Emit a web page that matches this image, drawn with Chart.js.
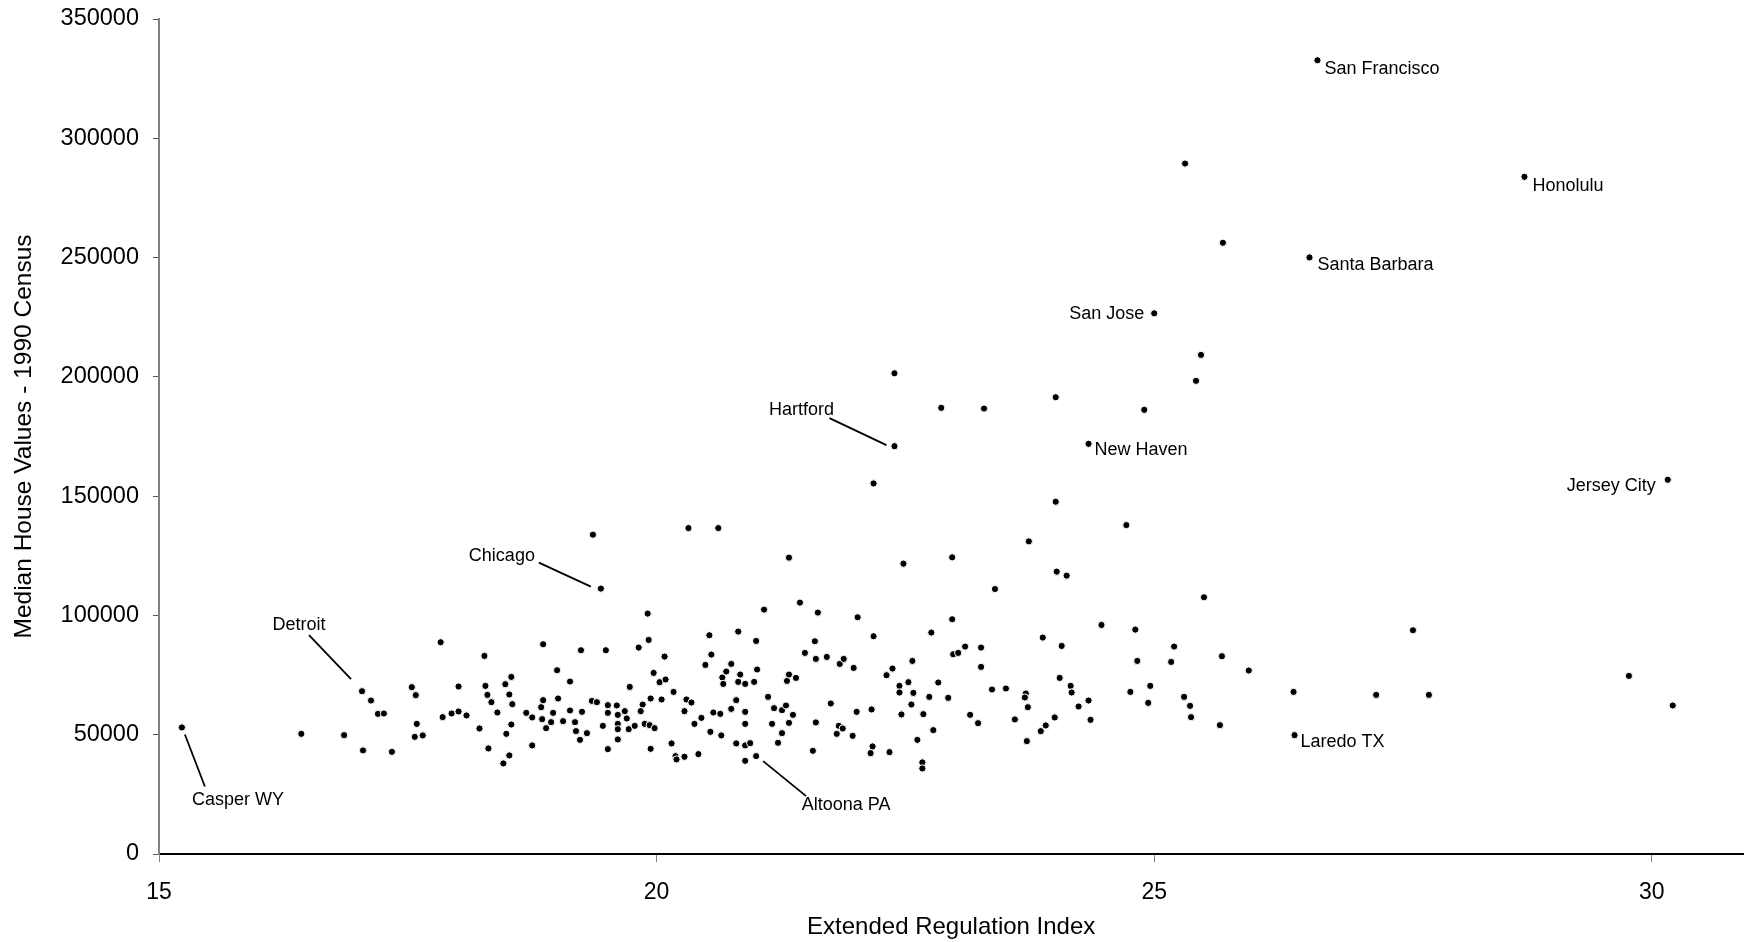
<!DOCTYPE html>
<html>
<head>
<meta charset="utf-8">
<script src="https://cdn.jsdelivr.net/npm/chart.js@4.4.1/dist/chart.umd.min.js"></script>
<style>
  html, body { margin: 0; padding: 0; background: #fff; }
  #wrap { width: 1748px; height: 942px; }
</style>
</head>
<body>
<div id="wrap"><canvas id="grafico" width="1748" height="942"></canvas></div>
<script>
// regulation index (x) and 1990 median house value (y), one entry per metro area
const regIndex = [
  15.23, 16.43, 16.86, 17.04, 17.13, 17.20, 17.26, 17.05, 17.34, 17.83,
  17.54, 17.58, 17.59, 17.57, 17.65, 17.85, 17.94, 18.01, 18.01, 18.09,
  18.27, 18.22, 18.28, 18.30, 18.34, 18.40, 18.31, 18.46, 18.52, 18.49,
  18.54, 18.48, 18.54, 18.52, 18.55, 18.69, 18.75, 18.75, 18.84, 18.86,
  18.85, 18.89, 18.94, 18.96, 18.86, 19.00, 19.01, 19.44, 19.91, 19.92,
  19.82, 19.24, 19.49, 20.08, 19.13, 19.06, 19.13, 19.25, 19.19, 19.18,
  19.23, 19.30, 19.35, 19.40, 19.51, 19.60, 19.51, 19.61, 19.68, 19.70,
  19.46, 19.61, 19.61, 19.72, 19.78, 19.61, 19.51, 19.73, 19.97, 20.03,
  20.09, 19.94, 19.86, 19.84, 19.88, 19.93, 19.98, 20.05, 19.94, 20.17,
  20.15, 20.19, 20.28, 20.42, 20.30, 20.35, 20.28, 20.38, 20.45, 20.53,
  20.55, 20.49, 20.82, 21.00, 21.08, 20.75, 20.70, 20.66, 20.67, 20.84,
  20.82, 20.89, 20.98, 21.01, 20.80, 20.75, 20.57, 20.64, 20.89, 20.54,
  20.65, 20.89, 20.80, 20.89, 20.94, 20.89, 21.00, 21.12, 21.18, 21.26,
  21.30, 21.37, 21.16, 21.33, 21.26, 21.22, 21.31, 21.33, 21.40, 21.44,
  21.62, 21.49, 21.59, 21.60, 21.71, 21.84, 21.88, 21.98, 22.02, 22.18,
  21.75, 21.60, 21.57, 21.83, 21.87, 21.81, 21.97, 22.01, 22.16, 22.17,
  22.15, 22.34, 22.31, 22.37, 22.44, 22.44, 22.53, 22.57, 22.48, 22.97,
  22.76, 22.83, 22.58, 22.56, 22.46, 22.68, 22.74, 22.93, 22.78, 22.62,
  22.67, 22.67, 22.98, 23.03, 23.10, 23.26, 23.26, 23.40, 23.15, 23.23,
  23.37, 23.51, 23.60, 23.71, 23.70, 23.73, 23.72, 23.86, 23.91, 24.00,
  23.88, 24.02, 24.12, 24.07, 24.05, 24.16, 24.17, 24.24, 24.34, 24.36,
  24.47, 24.76, 24.81, 24.83, 24.96, 24.94, 25.20, 25.17, 25.30, 25.36,
  25.37, 25.50, 25.68, 25.66, 25.95, 26.40, 26.41, 27.23, 27.60, 27.76,
  29.77, 30.21, 22.39, 22.39, 22.18, 19.36, 20.32, 20.62, 21.33, 25.47,
  25.42, 22.86, 23.29, 24.01, 24.90, 24.34, 24.01, 24.72, 23.74, 22.97,
  26.64, 25.31, 28.72, 25.69, 26.56, 25.00, 30.16, 20.20
];
const houseValue = [
  53040, 50370, 49820, 68240, 64340, 58740, 58900, 43410, 42830, 88760,
  69920, 66570, 54550, 49110, 49690, 57360, 58900, 59740, 70210, 58070,
  83020, 52620, 70460, 66690, 63640, 59320, 44250, 37970, 41320, 50370,
  54290, 71170, 74230, 66860, 62800, 59160, 57230, 45510, 61540, 64470,
  56520, 52750, 55260, 59160, 87920, 77030, 65180, 111240, 100770, 89720,
  86530, 85410, 85410, 82760, 72300, 55680, 60160, 59580, 51500, 55260,
  47850, 50660, 64180, 63640, 62380, 62250, 59160, 58320, 59870, 56810,
  53710, 54550, 52330, 52330, 53710, 48020, 43960, 70040, 75900, 72010,
  73140, 65180, 62670, 59870, 54550, 54000, 52750, 64760, 44090, 67950,
  46350, 41000, 40740, 41870, 64760, 63510, 59870, 54550, 57060, 91690,
  83600, 79250, 93230, 89300, 102440, 79670, 76490, 73980, 71300, 75230,
  72140, 71300, 72140, 77330, 64470, 60830, 59320, 58740, 59580, 51210,
  49690, 54550, 46350, 45510, 46470, 39060, 41030, 65860, 61120, 60290,
  62250, 58320, 54550, 54970, 50660, 46600, 72560, 75230, 73810, 105380,
  101190, 84280, 89170, 81770, 82600, 79670, 81770, 78000, 99220, 91270,
  63090, 55140, 43250, 53710, 52620, 50370, 49530, 59580, 60580, 45090,
  42280, 42700, 74940, 77740, 70460, 67700, 72010, 80930, 121700, 98390,
  92820, 71890, 67530, 62670, 58490, 58610, 65860, 65440, 51910, 47850,
  38390, 35880, 83730, 84280, 86950, 86530, 78420, 111070, 58320, 54840,
  68950, 69370, 56390, 67280, 65600, 61540, 47310, 51500, 53880, 57230,
  90720, 118350, 116680, 87210, 73810, 70460, 67700, 61830, 64340, 56230,
  96000, 67950, 94070, 80930, 70460, 63340, 86950, 80510, 65860, 62090,
  57360, 107600, 82900, 54010, 76910, 67950, 49820, 66690, 93780, 66690,
  74650, 62250, 201500, 170940, 155320, 133840, 136610, 136610, 124220, 209200,
  198320, 187010, 186720, 191460, 186180, 171940, 147660, 137860, 131040, 124340,
  332700, 289420, 283850, 256220, 250070, 226620, 156870, 39650
];

const xTickValues = [15, 20, 25, 30];
const yTickValues = [0, 50000, 100000, 150000, 200000, 250000, 300000, 350000];

// named cities and the index of their point
const cityNames = ["Casper WY", "Detroit", "Chicago", "Altoona PA", "Hartford", "New Haven",
  "Laredo TX", "San Francisco", "Honolulu", "Santa Barbara", "San Jose", "Jersey City"];
const cityPoint = [0, 3, 47, 126, 233, 245, 226, 250, 252, 254, 255, 256];

// where each name sits relative to its point (pixels), with optional leader line
const labelPos = {
  "Casper WY":     { dx: 56, dy: 73, align: "center", line: [3, 7, 23, 59] },
  "Detroit":       { dx: -63, dy: -66, align: "center", line: [-53, -56, -11, -12] },
  "Chicago":       { dx: -99, dy: -33, align: "center", line: [-62, -26, -10, -2] },
  "Altoona PA":    { dx: 90, dy: 49, align: "center", line: [7, 5, 50, 40] },
  "Hartford":      { dx: -93, dy: -36, align: "center", line: [-65, -28, -8, -1] },
  "New Haven":     { dx: 6, dy: 6, align: "left" },
  "Laredo TX":     { dx: 6, dy: 7, align: "left" },
  "San Francisco": { dx: 7, dy: 9, align: "left" },
  "Honolulu":      { dx: 8, dy: 9, align: "left" },
  "Santa Barbara": { dx: 8, dy: 8, align: "left" },
  "San Jose":      { dx: -10, dy: 1, align: "right" },
  "Jersey City":   { dx: -12, dy: 6, align: "right" }
};

const FONTE = "'Liberation Sans', Arial, sans-serif";
Chart.defaults.font.family = FONTE;
Chart.defaults.color = "#000";

const rotulosCidades = {
  id: "rotulosCidades",
  afterDatasetsDraw(chart) {
    const ctx = chart.ctx;
    const pts = chart.getDatasetMeta(0).data;
    ctx.save();
    ctx.fillStyle = "#000";
    ctx.strokeStyle = "#000";
    ctx.lineWidth = 1.8;
    ctx.font = "18px " + FONTE;
    ctx.textBaseline = "middle";
    cityNames.forEach((nome, i) => {
      const p = pts[cityPoint[i]];
      const s = labelPos[nome];
      if (s.line) {
        ctx.beginPath();
        ctx.moveTo(p.x + s.line[0], p.y + s.line[1]);
        ctx.lineTo(p.x + s.line[2], p.y + s.line[3]);
        ctx.stroke();
      }
      ctx.textAlign = s.align;
      ctx.fillText(nome, p.x + s.dx, p.y + s.dy);
    });
    ctx.restore();
  }
};

new Chart(document.getElementById("grafico").getContext("2d"), {
  type: "scatter",
  data: {
    datasets: [{
      data: regIndex.map((x, i) => ({ x: x, y: houseValue[i] })),
      backgroundColor: "#000",
      borderColor: "#fff",
      borderWidth: 1,
      pointRadius: 3.6,
      pointHoverRadius: 3.6
    }]
  },
  options: {
    responsive: false,
    animation: false,
    devicePixelRatio: 1,
    layout: { padding: { top: 19, right: 0, bottom: 0, left: 0 } },
    plugins: {
      legend: { display: false },
      tooltip: { enabled: false }
    },
    scales: {
      x: {
        type: "linear",
        min: 15,
        max: 30.92,
        afterBuildTicks: axis => { axis.ticks = xTickValues.map(v => ({ value: v })); },
        afterFit: axis => { axis.height = 88; },
        border: { display: true, color: "#000", width: 2 },
        grid: { drawOnChartArea: false, drawTicks: true, tickLength: 8, tickColor: "#808080", lineWidth: 1 },
        ticks: { font: { size: 23 }, padding: 17, color: "#000", maxRotation: 0 },
        title: { display: true, text: "Extended Regulation Index", font: { size: 24 }, padding: { top: 0, bottom: 0 }, color: "#000" }
      },
      y: {
        type: "linear",
        min: 0,
        max: 350000,
        afterBuildTicks: axis => { axis.ticks = yTickValues.map(v => ({ value: v })); },
        afterFit: axis => {
          axis.width = 159;
          axis.paddingTop = 0;
          axis.paddingBottom = 0;
        },
        border: { display: true, color: "#808080", width: 2 },
        grid: { drawOnChartArea: false, drawTicks: true, tickLength: 6, tickColor: "#555", lineWidth: 1 },
        ticks: { font: { size: 23.5 }, padding: 14, color: "#000", callback: v => String(v) },
        title: { display: true, text: "Median House Values - 1990 Census", font: { size: 24.5 }, padding: { top: 10, bottom: 0 }, color: "#000" }
      }
    }
  },
  plugins: [rotulosCidades]
});
</script>
</body>
</html>
